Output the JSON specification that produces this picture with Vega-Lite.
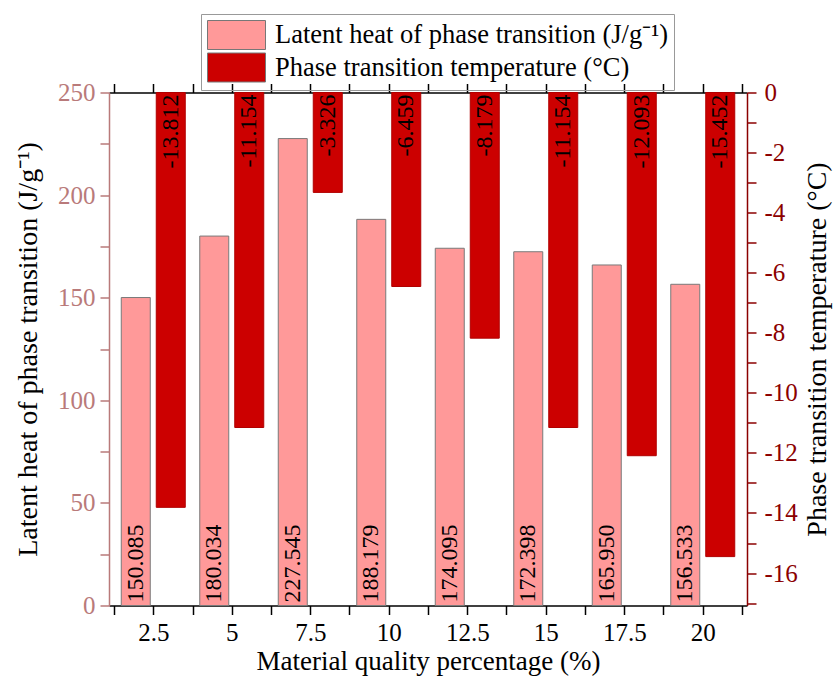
{
  "$schema": "https://vega.github.io/schema/vega-lite/v6.json",
  "width": 638,
  "height": 513,
  "autosize": "none",
  "padding": {"left": 109, "top": 92.5, "right": 86, "bottom": 71.5},
  "background": "white",
  "config": {
    "view": {"stroke": null},
    "font": "Liberation Serif",
    "locale": {"number": {"decimal": ".", "thousands": ",", "grouping": [3], "currency": ["$", ""], "minus": "-"}},
    "axis": {
      "grid": false,
      "labelFont": "Liberation Serif",
      "titleFont": "Liberation Serif",
      "labelFontSize": 25,
      "titleFontSize": 28,
      "titleFontWeight": "normal",
      "titleColor": "black",
      "tickWidth": 1.5,
      "domainWidth": 1.5,
      "tickSize": 9,
      "labelOverlap": false,
      "labelBound": false,
      "labelFlush": false
    },
    "axisRight": {
      "domainColor": "#8b0000",
      "tickColor": "#8b0000",
      "labelColor": "#8b0000",
      "labelPadding": 8,
      "titlePadding": 6,
      "titleAngle": 270,
      "titleBaseline": "top"
    },
    "legend": {
      "orient": "none",
      "legendX": 92,
      "legendY": -78.5,
      "symbolType": "M-1,-1H3V1H-1Z",
      "symbolSize": 841,
      "symbolStrokeColor": "#777777",
      "symbolStrokeWidth": 1,
      "symbolOpacity": 1,
      "labelOffset": 38,
      "labelFontSize": 26.5,
      "labelFont": "Liberation Serif",
      "labelColor": "black",
      "labelLimit": 700,
      "strokeColor": "#999999",
      "padding": 6,
      "rowPadding": -1.5
    }
  },
  "data": {
    "values": [
      {"p": 2.5, "heat": 150.085, "temp": -13.812},
      {"p": 5, "heat": 180.034, "temp": -11.154},
      {"p": 7.5, "heat": 227.545, "temp": -3.326},
      {"p": 10, "heat": 188.179, "temp": -6.459},
      {"p": 12.5, "heat": 174.095, "temp": -8.179},
      {"p": 15, "heat": 172.398, "temp": -11.154},
      {"p": 17.5, "heat": 165.95, "temp": -12.093},
      {"p": 20, "heat": 156.533, "temp": -15.452}
    ]
  },
  "layer": [
    {
      "encoding": {
        "x": {
          "field": "p",
          "type": "quantitative",
          "scale": {"domain": [1.25, 21.25], "nice": false, "zero": false},
          "axis": {
            "orient": "bottom",
            "title": "Material quality percentage (%)",
            "titleFontSize": 27,
            "values": [1.25, 2.5, 3.75, 5, 6.25, 7.5, 8.75, 10, 11.25, 12.5, 13.75, 15, 16.25, 17.5, 18.75, 20, 21.25],
            "labelExpr": "datum.value % 2.5 === 0 ? toString(datum.value) : ''",
            "domainColor": "black",
            "tickColor": "black",
            "labelColor": "black",
            "labelPadding": 6,
            "titlePadding": 3,
            "encode": {"ticks": {"update": {"y2": {"signal": "datum.value % 2.5 === 0 ? 9 : 5"}}}}
          }
        }
      },
      "layer": [
        {
          "mark": {"type": "bar", "width": 29, "xOffset": -17.5, "stroke": "#7a7a7a", "strokeWidth": 1},
          "encoding": {
            "y": {
              "field": "heat",
              "type": "quantitative",
              "scale": {"domain": [0, 250], "nice": false},
              "axis": {
                "orient": "left",
                "title": "Latent heat of phase transition (J/g⁻¹)",
                "values": [0, 25, 50, 75, 100, 125, 150, 175, 200, 225, 250],
                "labelExpr": "datum.value % 50 === 0 ? toString(datum.value) : ''",
                "domainColor": "#b97a7a",
                "tickColor": "#b97a7a",
                "labelColor": "#b97a7a",
                "labelPadding": 5,
                "titlePadding": 15,
                "encode": {"ticks": {"update": {"x2": {"signal": "datum.value % 50 === 0 ? -9 : -5"}}}}
              }
            },
            "color": {
              "datum": "Latent heat of phase transition (J/g⁻¹)",
              "scale": {
                "domain": ["Latent heat of phase transition (J/g⁻¹)", "Phase transition temperature (°C)"],
                "range": ["#ff9999", "#cc0000"]
              },
              "legend": {"title": null}
            }
          }
        },
        {
          "mark": {"type": "text", "angle": 270, "align": "left", "baseline": "middle", "dx": 3, "xOffset": -17.5, "fontSize": 24, "font": "Liberation Serif", "color": "black"},
          "encoding": {
            "y": {"datum": 0, "type": "quantitative"},
            "text": {"field": "heat", "type": "quantitative", "format": ".3f"}
          }
        }
      ]
    },
    {
      "encoding": {
        "x": {
          "field": "p",
          "type": "quantitative",
          "axis": {
            "orient": "top",
            "title": null,
            "labels": false,
            "values": [1.25, 2.5, 3.75, 5, 6.25, 7.5, 8.75, 10, 11.25, 12.5, 13.75, 15, 16.25, 17.5, 18.75, 20, 21.25],
            "domainColor": "black",
            "tickColor": "black",
            "encode": {"ticks": {"update": {"y2": {"signal": "datum.value % 2.5 === 0 ? 9 : 5"}}}}
          }
        }
      },
      "layer": [
        {
          "mark": {"type": "bar", "width": 29, "xOffset": 17.5, "stroke": "#b00000", "strokeWidth": 1},
          "encoding": {
            "y": {
              "field": "temp",
              "type": "quantitative",
              "scale": {"domain": [-17.08, 0], "nice": false},
              "axis": {
                "orient": "right",
                "title": "Phase transition temperature (°C)",
                "values": [0, -1, -2, -3, -4, -5, -6, -7, -8, -9, -10, -11, -12, -13, -14, -15, -16, -17],
                "labelExpr": "abs(datum.value) % 2 < 0.5 ? toString(datum.value) : ''",
                "encode": {"ticks": {"update": {"x2": {"signal": "abs(datum.value) % 2 < 0.5 ? 9 : 5"}}}}
              }
            },
            "color": {"datum": "Phase transition temperature (°C)"}
          }
        },
        {
          "mark": {"type": "text", "angle": 270, "align": "right", "baseline": "middle", "dx": -2, "xOffset": 17.5, "fontSize": 24, "font": "Liberation Serif", "color": "black"},
          "encoding": {
            "y": {
              "datum": 0,
              "type": "quantitative",
              "axis": {
                "orient": "right",
                "title": "Phase transition temperature (°C)",
                "values": [0, -1, -2, -3, -4, -5, -6, -7, -8, -9, -10, -11, -12, -13, -14, -15, -16, -17],
                "labelExpr": "abs(datum.value) % 2 < 0.5 ? toString(datum.value) : ''",
                "encode": {"ticks": {"update": {"x2": {"signal": "abs(datum.value) % 2 < 0.5 ? 9 : 5"}}}}
              }
            },
            "text": {"field": "temp", "type": "quantitative", "format": ".3f"}
          }
        }
      ]
    }
  ],
  "resolve": {"scale": {"y": "independent"}, "axis": {"x": "independent", "y": "independent"}}
}
